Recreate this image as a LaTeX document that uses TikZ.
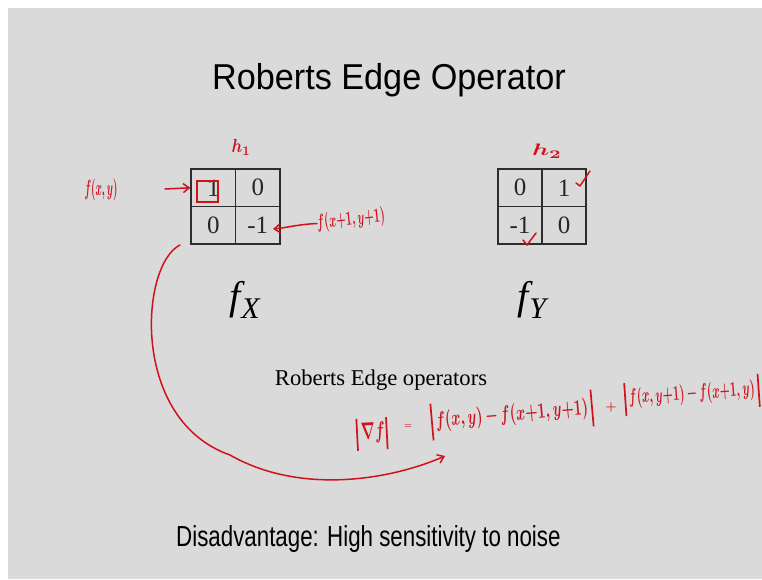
\documentclass[tikz,border=0pt]{standalone}
\usepackage{fontspec}
\setmainfont{Liberation Serif}
\newfontfamily\arialf{Liberation Sans}
\usepackage{graphicx}
\usetikzlibrary{arrows.meta}
\definecolor{bgc}{RGB}{218,218,218}
\definecolor{penc}{RGB}{208,18,30}
\definecolor{gridc}{RGB}{45,45,45}
\newcommand{\penbar}[2]{\rule[#1]{1.7pt}{#2}}
\begin{document}
\begin{tikzpicture}[x=1pt,y=-1pt,
  cell/.style={draw=gridc, line width=1.1pt, minimum width=44.5pt, minimum height=37.5pt,
    inner sep=0pt, font=\fontsize{25}{25}\selectfont, text=black!85},
  pen/.style={draw=penc, line width=1.5pt, line cap=round, line join=round},
  penarrow/.style={pen, -{Straight Barb[length=6pt,width=9pt,line width=1.5pt]}},
  hand/.style={text=penc, inner sep=0pt}]
\useasboundingbox (0,0) rectangle (762,579);
\fill[white] (0,0) rectangle (762,579);
\fill[bgc] (8,8) rectangle (762,579);

% title
\node[anchor=base, inner sep=0pt] (title) at (389,89)
  {\arialf\fontsize{36}{36}\selectfont\scalebox{0.95}[1]{Roberts Edge Operator}};

% h1 grid
\node[cell] (a11) at (213.25,187.75) {1};
\node[cell] (a12) at (257.75,187.75) {0};
\node[cell] (a21) at (213.25,225.25) {0};
\node[cell] (a22) at (257.75,225.25) {-1};

% h2 grid
\node[cell, minimum width=44pt] (b11) at (520,187.75) {0};
\node[cell, minimum width=44pt] (b12) at (564,187.75) {1};
\node[cell, minimum width=44pt] (b21) at (520,225.25) {-1};
\node[cell, minimum width=44pt] (b22) at (564,225.25) {0};

% f_X, f_Y
\node[anchor=base west, inner sep=0pt] (fX) at (229,309)
  {\fontsize{40}{40}\selectfont\itshape f\kern1pt\raisebox{-9pt}{\fontsize{30}{30}\selectfont X}};
\node[anchor=base west, inner sep=0pt] (fY) at (517,309)
  {\fontsize{40}{40}\selectfont\itshape f\kern1pt\raisebox{-9pt}{\fontsize{30}{30}\selectfont Y}};

% captions
\node[anchor=base, inner sep=0pt] (cap) at (381,385)
  {\fontsize{22.6}{22.6}\selectfont Roberts Edge operators};
\node[anchor=base west, inner sep=0pt] (dis) at (176,546)
  {\arialf\fontsize{29}{29}\selectfont\scalebox{0.77}[1]{Disadvantage: High sensitivity to noise}};

% handwriting
\node[hand] (h1) at (241,147) {\resizebox*{19pt}{16pt}{\boldmath$h_1$}};
\node[hand] (h2) at (547,151) {\resizebox*{30pt}{14pt}{\boldmath$h_2$}};
\node[hand] (fxy) at (101,190) {\resizebox*{33pt}{22pt}{\boldmath$f(x,y)$}};
\node[hand, rotate=6] (fx1) at (351,220) {\resizebox*{68pt}{20pt}{\boldmath$f(x{+}1,y{+}1)$}};

% handwritten gradient formula
\node[hand, rotate=3] (g1) at (372,434)
  {\penbar{-11pt}{32pt}\kern3pt\resizebox*{24pt}{21pt}{\boldmath$\nabla f$}\kern1pt\penbar{-11pt}{32pt}};
\node[hand] (g2) at (408,427) {\resizebox{8pt}{!}{\boldmath$=$}};
\node[hand, rotate=5] (g3) at (512,415)
  {\penbar{-13pt}{37pt}\kern3pt\resizebox*{153pt}{22pt}{\boldmath$f(x,y)\,{-}\,f(x{+}1,y{+}1)$}\kern3pt\penbar{-13pt}{37pt}};
\node[hand] (g4) at (611,407) {\resizebox{11pt}{!}{\boldmath$+$}};
\node[hand, rotate=4] (g5) at (692,395)
  {\penbar{-12pt}{33pt}\kern3pt\resizebox*{126pt}{21pt}{\boldmath$f(x,y{+}1)\,{-}\,f(x{+}1,y)$}\kern3pt\penbar{-12pt}{33pt}};

% box round the 1
\node[draw=penc, line width=1.5pt, minimum width=21pt, minimum height=21pt, inner sep=0pt] (box) at (207.5,191.5) {};

% arrows
\coordinate (a1s) at (165,189);
\draw[penarrow] (a1s) -- (a11.west);
\coordinate (a2e) at (273,229);
\draw[penarrow] (fx1.west) .. controls (300,224) and (285,228) .. (a2e);
\coordinate (cs) at (180,245);
\coordinate (ce) at (445,456);
\draw[penarrow] (cs) .. controls (140,265) and (130,420) .. (230,455)
  .. controls (300,495) and (390,480) .. (ce);

% check marks
\draw[pen] (576,183) -- (580,186) -- (590,171);
\draw[pen] (523,240) -- (527,245) -- (536,233);
\end{tikzpicture}
\end{document}
